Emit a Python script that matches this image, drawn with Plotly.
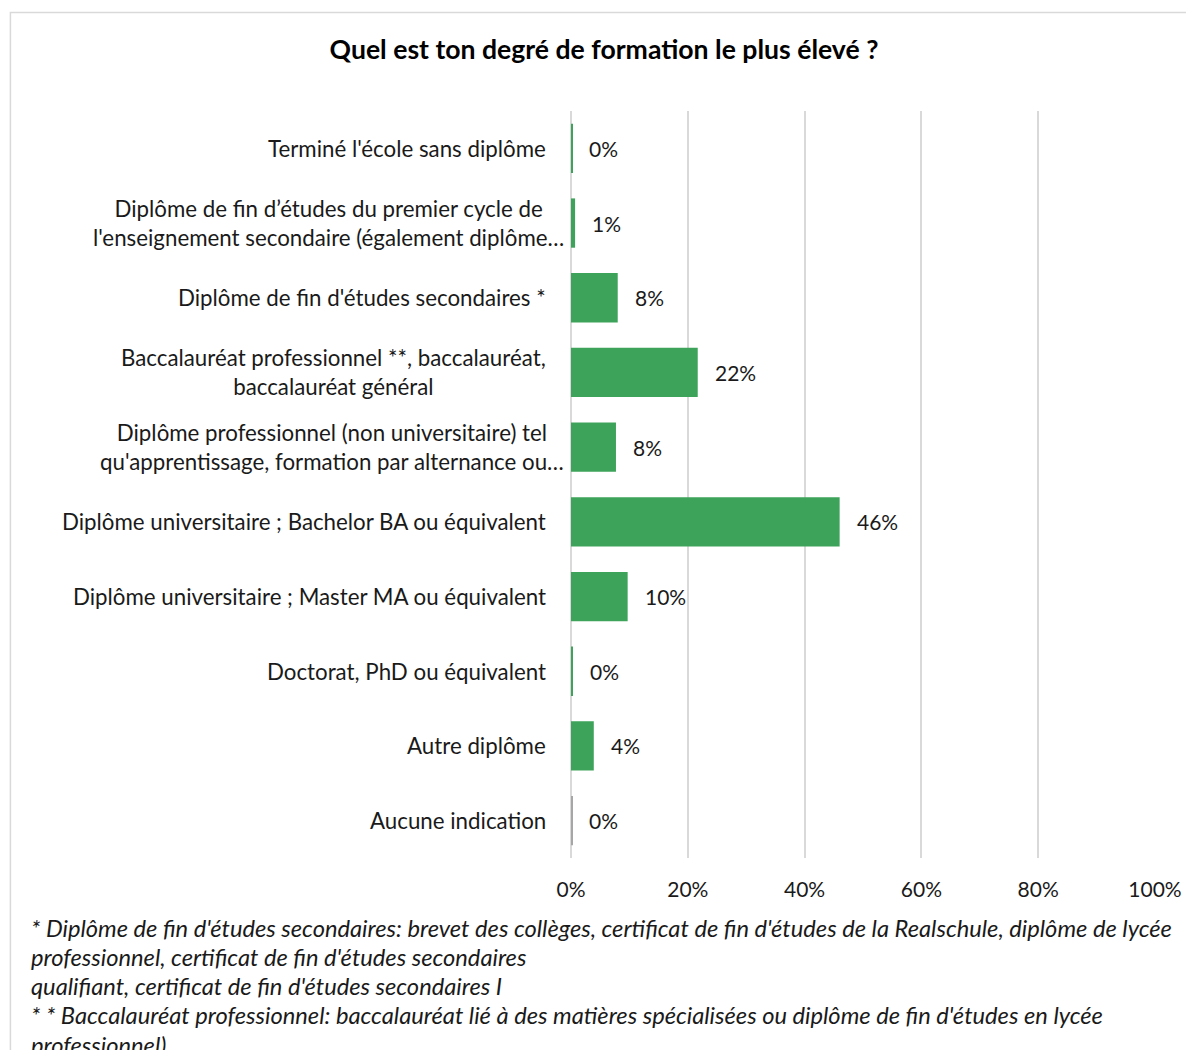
import plotly.graph_objects as go

categories = [
    "Terminé l'école sans diplôme",
    "Diplôme de fin d’études du premier cycle de<br>l'enseignement secondaire (également diplôme…",
    "Diplôme de fin d'études secondaires *",
    "Baccalauréat professionnel **, baccalauréat,<br>baccalauréat général",
    "Diplôme professionnel (non universitaire) tel<br>qu'apprentissage, formation par alternance ou…",
    "Diplôme universitaire ; Bachelor BA ou équivalent",
    "Diplôme universitaire ; Master MA ou équivalent",
    "Doctorat, PhD ou équivalent",
    "Autre diplôme",
    "Aucune indication",
]
values = [0.2, 0.7, 8.0, 21.7, 7.7, 46.0, 9.7, 0.3, 3.9, 0.2]
bar_colors = ["#3ea35a"] * 9 + ["#a6a6a6"]
x_ticks = [0, 20, 40, 60, 80, 100]
x_tick_labels = ["0%", "20%", "40%", "60%", "80%", "100%"]
title = "Quel est ton degré de formation le plus élevé ?"
footnotes = [
    "* Diplôme de fin d'études secondaires: brevet des collèges, certificat de fin d'études de la Realschule, diplôme de lycée",
    "professionnel, certificat de fin d'études secondaires",
    "qualifiant, certificat de fin d'études secondaires I",
    "* * Baccalauréat professionnel: baccalauréat lié à des matières spécialisées ou diplôme de fin d'études en lycée",
    "professionnel)",
]

# page body has an 8px margin; figure is sized/offset to compensate
OFF = 8
W, H = 1194 - OFF, 1050 - OFF
# plot area in screen pixels
SL, SR, ST, SB = 571, 1157, 111, 858
L, R, T, B = SL - OFF, SR - OFF, ST - OFF, SB - OFF
pw, ph = R - L, B - T

def px_x(sx):
    return (sx - SL) / pw

def px_y(sy):
    return (SB - sy) / ph

FONT = "Lato, 'Open Sans', sans-serif"
TXT = "#1a1a1a"

fig = go.Figure(go.Bar(
    y=categories, x=values, orientation="h",
    marker=dict(color=bar_colors, line=dict(width=0)),
    width=0.66, hoverinfo="skip",
))

ann = []
# category labels
for c in categories:
    xs = 18 if c.endswith("…") else 0
    ann.append(dict(
        x=px_x(548), xref="paper", y=c, yref="y", xanchor="right", yanchor="middle",
        align="center", xshift=xs, showarrow=False,
        text=f'<span style="font-size:22.3px">{c}</span>',
        font=dict(family=FONT, size=22.3, color=TXT),
    ))
# value labels
for c, v in zip(categories, values):
    ann.append(dict(
        x=v, xref="x", y=c, yref="y", xanchor="left", yanchor="middle",
        xshift=15, showarrow=False, text=f"{round(v)}%",
        font=dict(family=FONT, size=21, color=TXT),
    ))
# footnotes
for i, line in enumerate(footnotes):
    ann.append(dict(
        x=px_x(27), xref="paper", y=px_y(927.5 + i * 29.3), yref="paper",
        xanchor="left", yanchor="middle", showarrow=False,
        text=f"<i>{line}</i>", font=dict(family=FONT, size=23.7, color=TXT),
    ))

fig.update_layout(
    width=W, height=H,
    margin=dict(l=L, r=W - R, t=T, b=H - B, pad=0),
    paper_bgcolor="white", plot_bgcolor="white",
    showlegend=False,
    title=dict(text=f"<b>{title}</b>", x=(604 - OFF) / W, xanchor="center",
               y=1 - (50 - OFF) / H, yanchor="middle",
               font=dict(family=FONT, size=26.6, color="#000000")),
    xaxis=dict(range=[0, 100], tickvals=x_ticks, ticktext=x_tick_labels,
               showgrid=True, gridcolor="#d9d9d9", gridwidth=1.5,
               zeroline=True, zerolinecolor="#d9d9d9", zerolinewidth=1.5,
               showline=False, ticks="", ticklabelstandoff=17,
               tickfont=dict(family=FONT, size=21, color=TXT), fixedrange=True),
    yaxis=dict(autorange="reversed", showticklabels=False, showgrid=False,
               zeroline=False, showline=False, ticks="", fixedrange=True),
    annotations=ann,
    shapes=[dict(type="rect", xref="paper", yref="paper",
                 x0=px_x(8.5), x1=px_x(1220), y0=px_y(1100), y1=px_y(12.5),
                 line=dict(color="#d9d9d9", width=1.5), fillcolor="rgba(0,0,0,0)",
                 layer="below")],
    bargap=0.34,
)

fig.write_html("out.html")
